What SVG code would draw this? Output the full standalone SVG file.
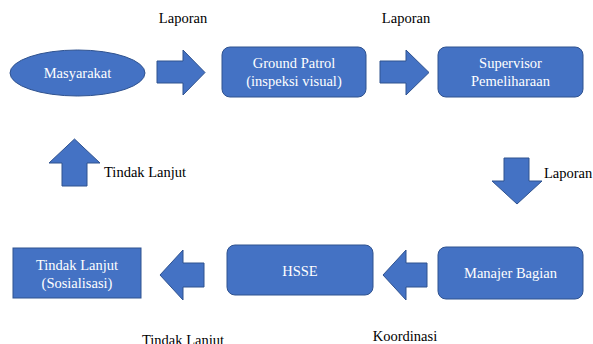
<svg xmlns="http://www.w3.org/2000/svg" width="593" height="344" viewBox="0 0 593 344">
<style>
.shape{fill:#4472C4;stroke:#2F528F;stroke-width:1}
.nt{font-family:"Liberation Serif","Times New Roman",serif;font-size:14.5px;fill:#ffffff;text-anchor:middle}
.lb{font-family:"Liberation Serif","Times New Roman",serif;font-size:14.5px;fill:#000000}
</style>
<rect width="593" height="344" fill="#ffffff"/>
<g id="connectors">
<polygon class="shape" points="157,61 183,61 183,50 205,72.5 183,95 183,83 157,83"/>
<polygon class="shape" points="380,61 406,61 406,50 429,72.5 406,95 406,83 380,83"/>
<polygon class="shape" points="504,158 529,158 529,181 542,181 517,204 492,181 504,181"/>
<polygon class="shape" points="427,263 406,263 406,250 383,275 406,300 406,287 427,287"/>
<polygon class="shape" points="204,263 183,263 183,250 160,275 183,300 183,287 204,287"/>
<polygon class="shape" points="62,186 62,163 49,163 74.5,139 100,163 87,163 87,186"/>
<text class="lb" x="183" y="23" text-anchor="middle">Laporan</text>
<text class="lb" x="406" y="23" text-anchor="middle">Laporan</text>
<text class="lb" x="544" y="178">Laporan</text>
<text class="lb" x="104" y="177">Tindak Lanjut</text>
<text class="lb" x="405" y="341" text-anchor="middle">Koordinasi</text>
<text class="lb" x="183" y="345" text-anchor="middle">Tindak Lanjut</text>
</g>
<g id="masyarakat">
<ellipse class="shape" cx="77.5" cy="73" rx="67.5" ry="23"/>
<text class="nt" x="77.5" y="78">Masyarakat</text>
</g>
<g id="ground-patrol">
<rect class="shape" x="222" y="47" width="144" height="50" rx="8"/>
<text class="nt" x="294" y="68">Ground Patrol</text>
<text class="nt" x="294" y="86">(inspeksi visual)</text>
</g>
<g id="supervisor">
<rect class="shape" x="438" y="47" width="145" height="50" rx="8"/>
<text class="nt" x="510.5" y="68">Supervisor</text>
<text class="nt" x="510.5" y="86">Pemeliharaan</text>
</g>
<g id="manajer">
<rect class="shape" x="438" y="247" width="145" height="52" rx="8"/>
<text class="nt" x="510.5" y="278">Manajer Bagian</text>
</g>
<g id="hsse">
<rect class="shape" x="227" y="245" width="146" height="50" rx="8"/>
<text class="nt" x="300" y="276">HSSE</text>
</g>
<g id="tindak-lanjut">
<rect class="shape" x="13" y="248" width="128" height="50"/>
<text class="nt" x="77" y="270">Tindak Lanjut</text>
<text class="nt" x="77" y="288">(Sosialisasi)</text>
</g>
</svg>
